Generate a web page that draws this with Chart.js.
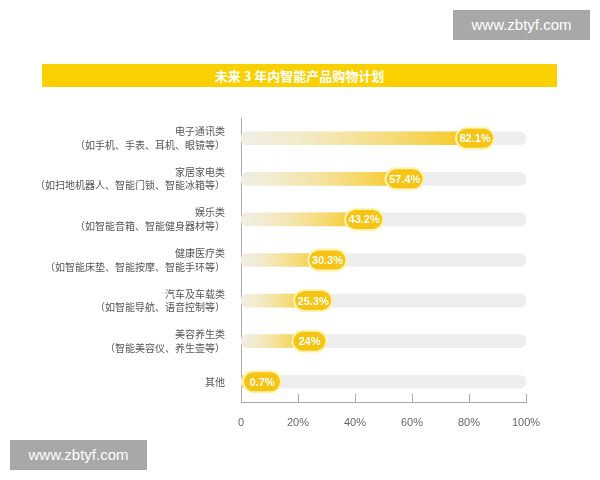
<!DOCTYPE html>
<html><head><meta charset="utf-8">
<script src="https://cdn.jsdelivr.net/npm/chart.js@4"></script>
<style>
body{margin:0;width:600px;height:480px;background:#fff;position:relative;overflow:hidden;font-family:"Noto Sans CJK SC",sans-serif}
#c{position:absolute;left:0;top:0}
.banner{position:absolute;left:42px;top:64px;width:515px;height:23px;background:#fbd000;color:#fff;font-weight:bold;font-size:13px;text-align:center;line-height:23px}
.wm{position:absolute;width:137px;height:30px;background:#a8a8a8;color:#fff;font:15px "Liberation Sans",sans-serif;line-height:30px;text-align:center}
</style></head><body>
<canvas id="c" width="600" height="480"></canvas>
<div class="banner">未来 3 年内智能产品购物计划</div>
<div class="wm" style="left:453px;top:10px">www.zbtyf.com</div>
<div class="wm" style="left:10px;top:440px">www.zbtyf.com</div>
<script>
const categories = [
  ['电子通讯类','（如手机、手表、耳机、眼镜等）'],
  ['家居家电类','（如扫地机器人、智能门锁、智能冰箱等）'],
  ['娱乐类','（如智能音箱、智能健身器材等）'],
  ['健康医疗类','（如智能床垫、智能按摩、智能手环等）'],
  ['汽车及车载类','（如智能导航、语音控制等）'],
  ['美容养生类','（智能美容仪、养生壶等）'],
  '其他'
];
const values = [82.1, 57.4, 43.2, 30.3, 25.3, 24, 0.7];
const valueLabels = ['82.1%','57.4%','43.2%','30.3%','25.3%','24%','0.7%'];
const track = values.map(() => 100);

const pills = {
  id: 'pills',
  afterDatasetsDraw(chart) {
    const {ctx, chartArea, scales: {x}} = chart;
    ctx.save();
    // inner tick marks on x axis
    ctx.strokeStyle = '#aaa'; ctx.lineWidth = 1;
    [20,40,60,80,100].forEach(v => {
      const px = Math.round(x.getPixelForValue(v)) + 0.5;
      ctx.beginPath(); ctx.moveTo(px, chartArea.bottom); ctx.lineTo(px, chartArea.bottom - 8); ctx.stroke();
    });
    const meta = chart.getDatasetMeta(1);
    meta.data.forEach((bar, i) => {
      const w = valueLabels[i].length > 3 ? 38 : 34, h = 21;
      let cx = bar.x;
      if (cx - w/2 < chartArea.left + 2) cx = chartArea.left + 2 + w/2;
      ctx.beginPath();
      ctx.roundRect(cx - w/2, bar.y - h/2, w, h, h/2);
      ctx.fillStyle = '#f6c414';
      ctx.fill();
      ctx.lineWidth = 2; ctx.strokeStyle = '#fff3b0'; ctx.stroke();
      ctx.fillStyle = '#fff';
      ctx.font = 'bold 11px "Liberation Sans", sans-serif';
      ctx.textAlign = 'center'; ctx.textBaseline = 'middle';
      ctx.fillText(valueLabels[i], cx, bar.y + 1);
    });
    ctx.restore();
  }
};

new Chart(document.getElementById('c'), {
  type: 'bar',
  data: {
    labels: categories,
    datasets: [
      {data: track, backgroundColor: '#eeeeee', barThickness: 13, borderRadius: 7, borderSkipped: false, grouped: false, order: 2},
      {data: values, barThickness: 13, borderSkipped: false, grouped: false, order: 1,
       backgroundColor(c) {
         const a = c.chart.chartArea;
         if (!a) return '#f6c414';
         const end = c.chart.scales.x.getPixelForValue(values[c.dataIndex] || 1);
         const g = c.chart.ctx.createLinearGradient(a.left, 0, Math.max(end, a.left + 1), 0);
         g.addColorStop(0, 'rgba(255,236,150,0.1)');
         g.addColorStop(1, '#f6c414');
         return g;
       }}
    ]
  },
  options: {
    indexAxis: 'y',
    responsive: false,
    animation: false,
    layout: {padding: {top: 118, right: 74, left: 0, bottom: 0}},
    plugins: {legend: {display: false}, tooltip: {enabled: false}},
    scales: {
      x: {
        min: 0, max: 100,
        afterFit(s) { s.height = 78; },
        border: {color: '#aaa'},
        grid: {display: false},
        ticks: {stepSize: 20, color: '#666', padding: 6, font: {size: 11, family: '"Liberation Sans", sans-serif'},
                callback: v => v === 0 ? '0' : v + '%'}
      },
      y: {
        afterFit(s) { s.width = 241; },
        border: {color: '#aaa'},
        grid: {display: false},
        ticks: {color: '#555', padding: 8, font: {size: 10, family: '"Noto Sans CJK SC"', lineHeight: 1.35}}
      }
    }
  },
  plugins: [pills]
});
</script>
</body></html>
